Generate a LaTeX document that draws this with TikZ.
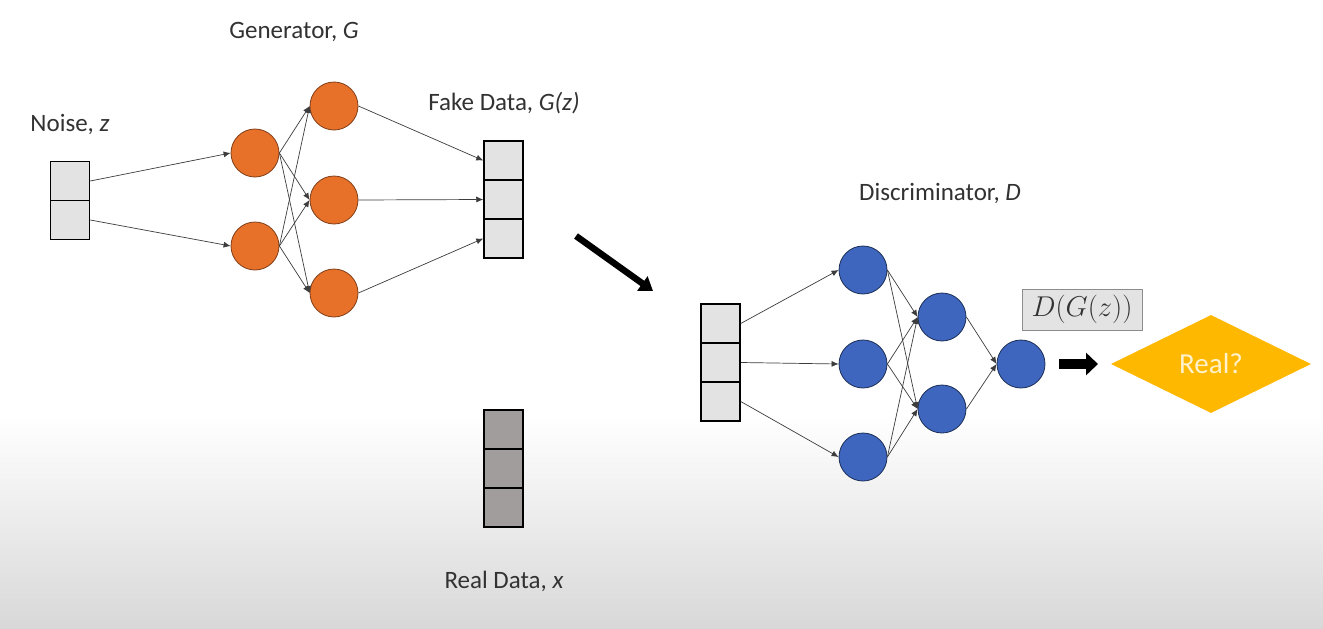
\documentclass[tikz,border=0pt]{standalone}
\usepackage{fontspec}
\setmainfont{Carlito}
\usetikzlibrary{arrows.meta,shapes.geometric}
\definecolor{gorange}{RGB}{232,113,42}
\definecolor{dblue}{RGB}{62,102,190}
\definecolor{cellgray}{RGB}{228,227,227}
\definecolor{realgray}{RGB}{160,157,156}
\definecolor{gold}{RGB}{255,184,0}
\definecolor{wire}{RGB}{60,60,60}
\definecolor{bggray}{RGB}{216,216,216}
\definecolor{txt}{RGB}{50,50,50}
\begin{document}
\begin{tikzpicture}[x=1pt,y=-1pt,
  neuron/.style={circle, minimum size=48pt, inner sep=0pt, line width=0.8pt},
  gneuron/.style={neuron, fill=gorange, draw=gorange!55!black},
  dneuron/.style={neuron, fill=dblue, draw=dblue!45!black},
  cell/.style={rectangle, minimum width=39pt, minimum height=39pt, inner sep=0pt, draw=black, line width=1.5pt, fill=cellgray},
  rcell/.style={cell, fill=realgray},
  wirearrow/.style={draw=wire, line width=0.7pt, -{Latex[length=7pt,width=6pt]}},
  lab/.style={font=\fontsize{25}{30}\selectfont, text=txt, inner sep=0pt},
]
\useasboundingbox (0,0) rectangle (1323,629);
\fill[white] (0,0) rectangle (1323,629);
\shade[top color=white, bottom color=bggray] (0,415) rectangle (1323,629);

% labels
\node[lab] (lgen) at (294,32) {Generator, \textit{G}};
\node[lab] (lnoise) at (70,124) {Noise, \textit{z}};
\node[lab] (lfake) at (504,103) {Fake Data, \textit{G(z)}};
\node[lab] (ldisc) at (940,193) {Discriminator, \textit{D}};
\node[lab] (lreal) at (504,581) {Real Data, \textit{x}};

% noise
\node[cell] (n1) at (70,181) {};
\node[cell] (n2) at (70,220) {};

% generator
\node[gneuron] (g11) at (255,153) {};
\node[gneuron] (g12) at (255,246) {};
\node[gneuron] (g21) at (334,106) {};
\node[gneuron] (g22) at (334,200) {};
\node[gneuron] (g23) at (334,293) {};

% fake data
\node[cell] (f1) at (503.5,160.5) {};
\node[cell] (f2) at (503.5,199.5) {};
\node[cell] (f3) at (503.5,238.5) {};

% real data
\node[rcell] (r1) at (503.5,429.5) {};
\node[rcell] (r2) at (503.5,468.5) {};
\node[rcell] (r3) at (503.5,507.5) {};

% discriminator input
\node[cell] (d1) at (720.5,323.5) {};
\node[cell] (d2) at (720.5,362.5) {};
\node[cell] (d3) at (720.5,401.5) {};

% discriminator
\node[dneuron] (h11) at (863,270) {};
\node[dneuron] (h12) at (863,364) {};
\node[dneuron] (h13) at (863,457) {};
\node[dneuron] (h21) at (942,317) {};
\node[dneuron] (h22) at (942,409) {};
\node[dneuron] (out) at (1021,364) {};

\node[rectangle, minimum width=120pt, minimum height=41pt, inner sep=0pt, fill=cellgray, draw=black!45, line width=1pt, font=\fontsize{24}{28}\selectfont, text=txt] (dgz) at (1082,309.5) {\scalebox{1.15}{$D(G(z))$}};

\node[diamond, aspect=2, minimum width=200pt, minimum height=98pt, inner sep=0pt, fill=gold, text={rgb,255:red,255;green,242;blue,204}, font=\fontsize{29}{34}\selectfont] (real) at (1211,364) {Real?};

% connectors
\draw[wirearrow] (n1.east) -- (g11.west);
\draw[wirearrow] (n2.east) -- (g12.west);
\foreach \a in {g11,g12}{
  \foreach \b in {g21,g22,g23}{
    \draw[wirearrow] (\a.east) -- (\b.west);
  }
}
\draw[wirearrow] (g21.east) -- (f1.west);
\draw[wirearrow] (g22.east) -- (f2.west);
\draw[wirearrow] (g23.east) -- (f3.west);

\draw[wirearrow] (d1.east) -- (h11.west);
\draw[wirearrow] (d2.east) -- (h12.west);
\draw[wirearrow] (d3.east) -- (h13.west);
\foreach \a in {h11,h12,h13}{
  \foreach \b in {h21,h22}{
    \draw[wirearrow] (\a.east) -- (\b.west);
  }
}
\draw[wirearrow] (h21.east) -- (out.west);
\draw[wirearrow] (h22.east) -- (out.west);

% big arrows
\coordinate (ba1) at (576,236);
\coordinate (ba2) at (653,291);
\draw[black, line width=6.5pt, -{Triangle[length=13pt,width=17pt]}] (ba1) -- (ba2);
\coordinate (fa1) at (1059,364);
\coordinate (fa2) at (1098,364);
\draw[black, line width=10pt, -{Triangle[length=12pt,width=22pt]}] (fa1) -- (fa2);
\end{tikzpicture}
\end{document}
